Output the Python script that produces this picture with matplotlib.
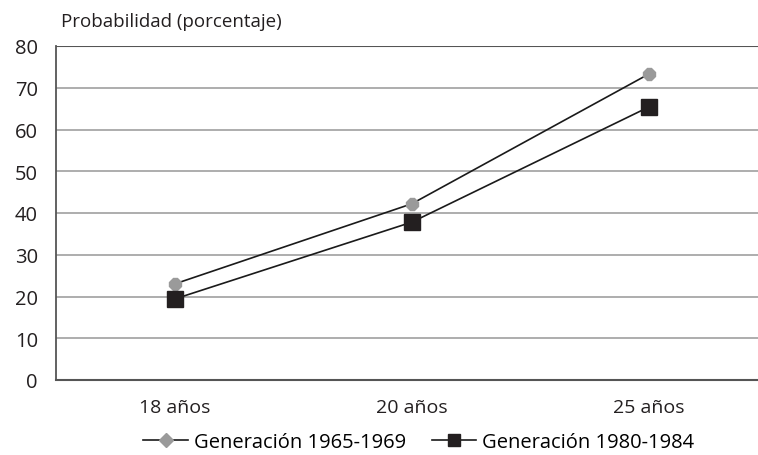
import matplotlib
matplotlib.use("Agg")
import matplotlib.pyplot as plt
from matplotlib.lines import Line2D

plt.rcParams['font.family'] = ['Open Sans', 'DejaVu Sans']

categories = ["18 años", "20 años", "25 años"]
gen_1965 = [23.0, 42.2, 73.3]
gen_1980 = [19.4, 37.8, 65.4]
yticks = [0, 10, 20, 30, 40, 50, 60, 70, 80]
labels = ["Generación 1965-1969", "Generación 1980-1984"]

fig = plt.figure(figsize=(7.58, 4.56), dpi=100)
ax = fig.add_axes([56/758, 75/456, 711.5/758, 334/456])

x = list(range(len(categories)))
ax.plot(x, gen_1965, color="#1a1a1a", lw=1.2, marker="8", markersize=9,
        markerfacecolor="#9a9a9a", markeredgecolor="#9a9a9a", zorder=3)
ax.plot(x, gen_1980, color="#1a1a1a", lw=1.2, marker="s", markersize=11,
        markerfacecolor="#231f20", markeredgecolor="#231f20", zorder=4)

ax.set_xlim(-0.5, 2.5)
ax.set_ylim(0, 80)
ax.set_yticks(yticks)
ax.set_yticklabels([str(v) for v in yticks], fontsize=14.5, color="#231f20")
ax.set_xticks(x)
ax.set_xticklabels(categories, fontsize=14, color="#231f20")
ax.tick_params(axis='y', length=0, pad=13)
ax.tick_params(axis='x', length=0, pad=13)
for v in yticks[1:-1]:
    ax.axhline(v, color="#a0a0a0", lw=1.2, zorder=1)
ax.axhline(80, color="#555555", lw=1.5, zorder=1)
for s in ["top", "right"]:
    ax.spines[s].set_visible(False)
ax.spines["left"].set_color("#555555")
ax.spines["left"].set_linewidth(1.3)
ax.spines["bottom"].set_color("#555555")
ax.spines["bottom"].set_linewidth(1.5)

fig.text(61/758, 1 - 22/456, "Probabilidad (porcentaje)", fontsize=13.5,
         color="#231f20", va="center", ha="left")

handles = [
    Line2D([0], [0], color="#1a1a1a", lw=1.2, marker="D", markersize=7,
           markerfacecolor="#9a9a9a", markeredgecolor="#9a9a9a"),
    Line2D([0], [0], color="#1a1a1a", lw=1.2, marker="s", markersize=8,
           markerfacecolor="#231f20", markeredgecolor="#231f20"),
]
fig.legend(handles, labels, loc="center", bbox_to_anchor=(419/758, 1 - 443/456),
           ncol=2, frameon=False, fontsize=14.5, handlelength=2.2,
           handletextpad=0.3, columnspacing=1.3)

fig.savefig("out.png", dpi=100)
